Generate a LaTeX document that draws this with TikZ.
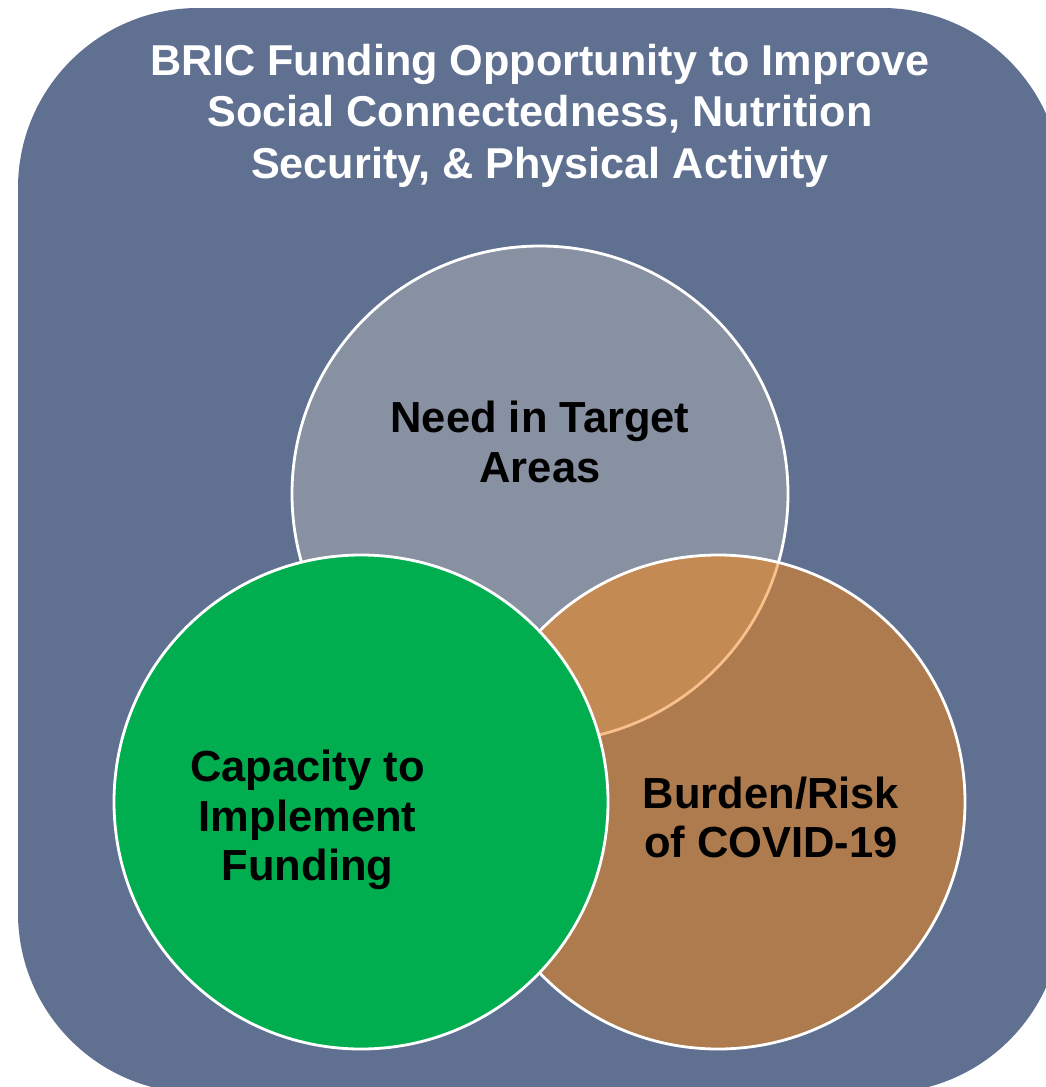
\documentclass[tikz,border=0pt]{standalone}
\usepackage{fontspec}
\setmainfont{Liberation Sans}
\definecolor{slate}{RGB}{95,112,145}
\definecolor{needgray}{RGB}{136,145,162}
\definecolor{burdenbrown}{RGB}{173,123,77}
\definecolor{overlapbrown}{RGB}{196,138,84}
\definecolor{overlapline}{RGB}{250,192,140}
\definecolor{capgreen}{RGB}{0,174,80}
\tikzset{
  ring/.style={draw=white, line width=2.8pt},
  titletext/.style={text=white, align=center, inner sep=0pt, font=\bfseries\fontsize{43.2}{51.5}\selectfont},
  label/.style={text=black, align=center, inner sep=0pt, font=\bfseries\fontsize{43.5}{49.5}\selectfont}
}
\begin{document}
\begin{tikzpicture}[x=1pt,y=-1pt]
\useasboundingbox (0,0) rectangle (1046,1087);
\clip (0,0) rectangle (1046,1087);
% background panel
\fill[slate, rounded corners=180pt] (18,8) rectangle (1062,1093);
% circle centres
\coordinate (needc) at (540,494);
\coordinate (burdenc) at (718,802);
\coordinate (capc) at (361,802);
% Need circle
\fill[needgray] (needc) circle[radius=248pt];
\draw[ring] (needc) circle[radius=248pt];
% Burden circle
\fill[burdenbrown] (burdenc) circle[radius=247pt];
\begin{scope}
  \clip (burdenc) circle[radius=247pt];
  \fill[overlapbrown] (needc) circle[radius=248pt];
  \draw[overlapline, line width=2.8pt] (needc) circle[radius=248pt];
\end{scope}
\draw[ring] (burdenc) circle[radius=247pt];
% Capacity circle
\fill[capgreen] (capc) circle[radius=247pt];
\draw[ring] (capc) circle[radius=247pt];
% texts
\node[titletext] (title) at (540,115.5) {BRIC Funding Opportunity to Improve\\Social Connectedness, Nutrition\\Security, \& Physical Activity};
\node[label] (need) at (540,442) {Need in Target\\Areas};
\node[label] (cap) at (307.5,820) {Capacity to\\Implement\\Funding};
\node[label] (burden) at (771,817.5) {Burden/Risk\\of COVID-19};
\end{tikzpicture}
\end{document}
